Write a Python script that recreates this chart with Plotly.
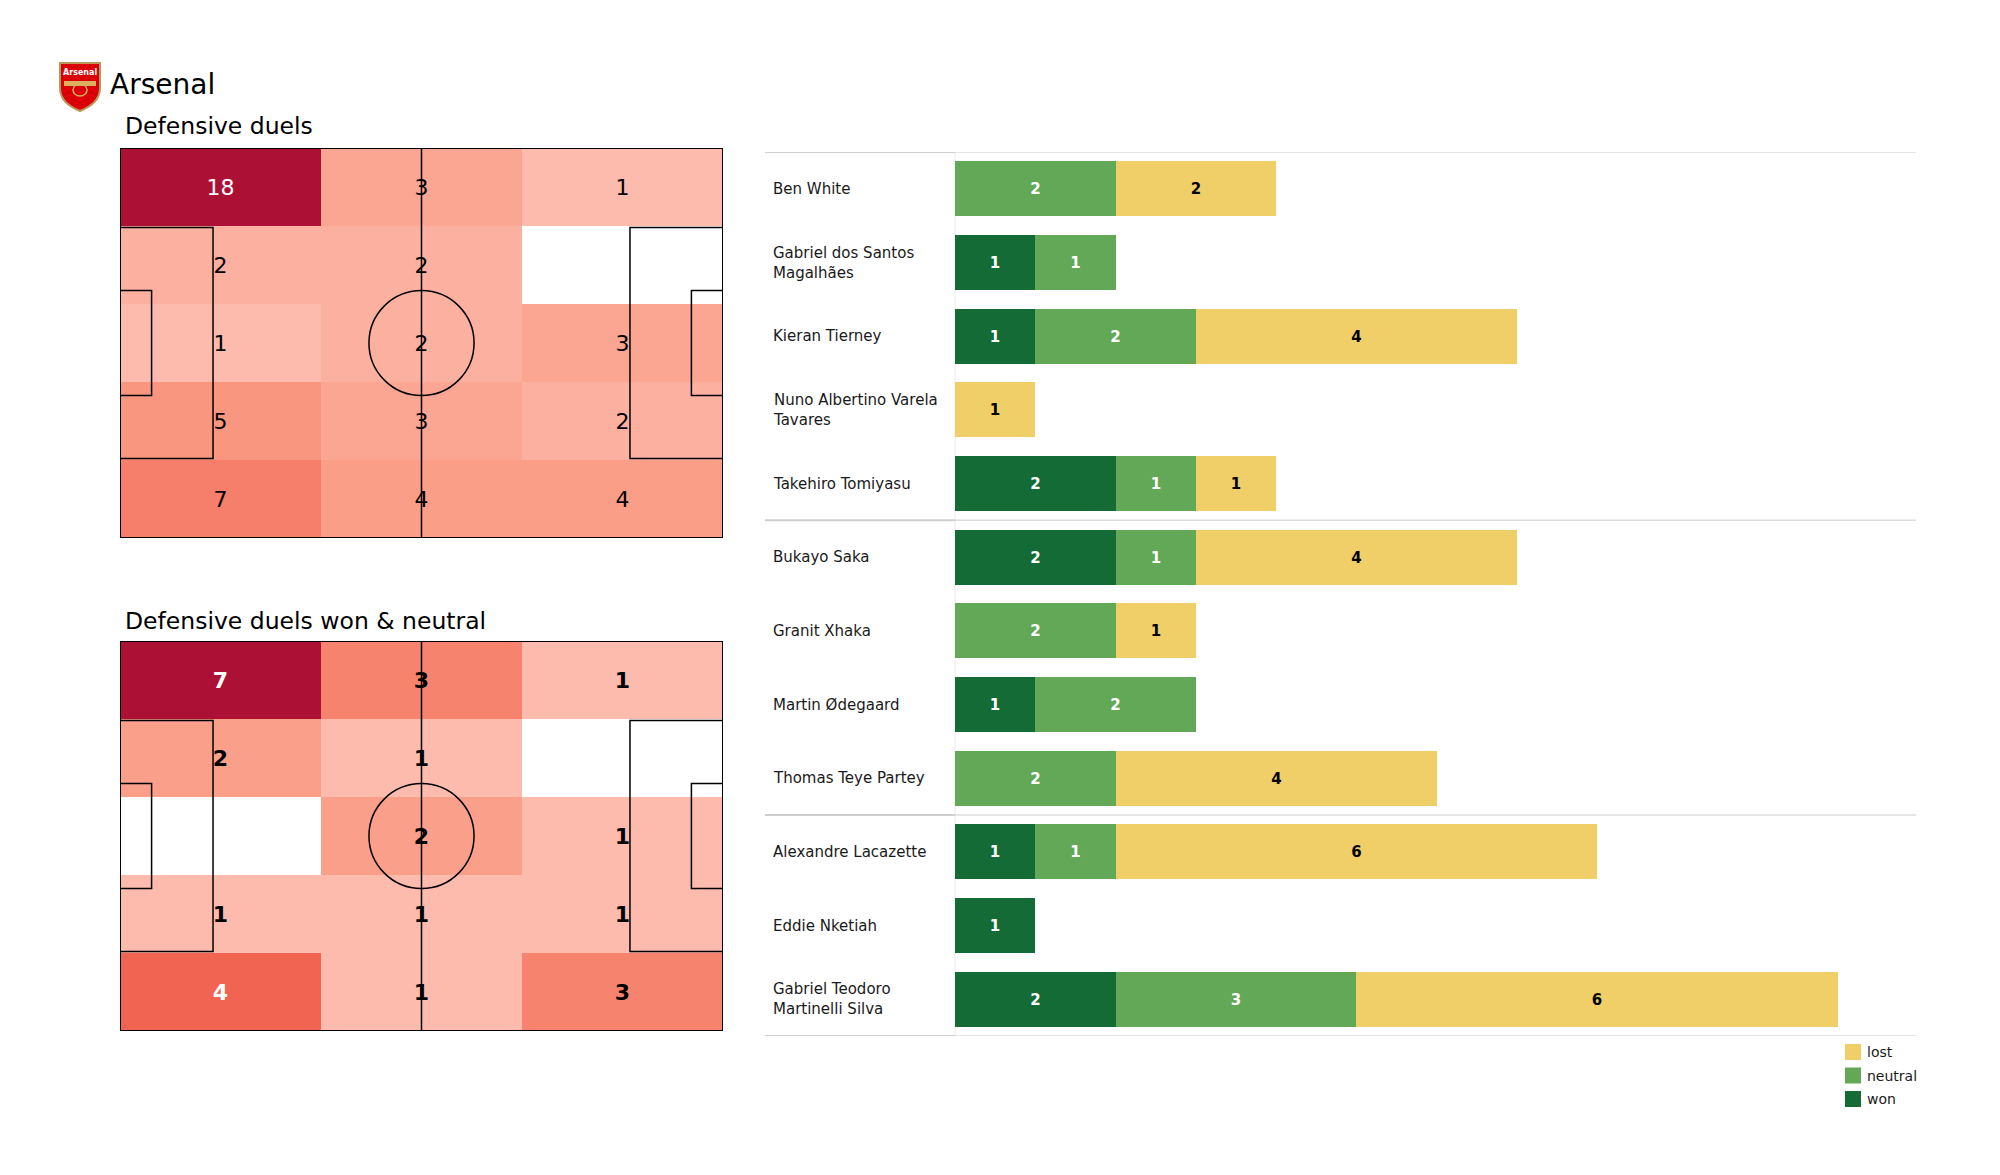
import textwrap
import plotly.graph_objects as go

# ---------------- data ----------------
team = "Arsenal"
title_top = "Defensive duels"
title_bottom = "Defensive duels won & neutral"

# zone grids (rows top->bottom, cols left->right)
duels_all = [
    [18, 3, 1],
    [2, 2, 0],
    [1, 2, 3],
    [5, 3, 2],
    [7, 4, 4],
]
duels_won_neutral = [
    [7, 3, 1],
    [2, 1, 0],
    [0, 2, 1],
    [1, 1, 1],
    [4, 1, 3],
]

players = [
    "Ben White", "Gabriel dos Santos Magalhães", "Kieran Tierney",
    "Nuno Albertino Varela Tavares", "Takehiro Tomiyasu",
    "Bukayo Saka", "Granit Xhaka", "Martin Ødegaard", "Thomas Teye Partey",
    "Alexandre Lacazette", "Eddie Nketiah", "Gabriel Teodoro Martinelli Silva",
]
group_sizes = [5, 4, 3]
won = [0, 1, 1, 0, 2, 2, 0, 1, 0, 1, 1, 2]
neutral = [2, 1, 2, 0, 1, 1, 2, 2, 2, 1, 0, 3]
lost = [2, 0, 4, 1, 1, 4, 1, 0, 4, 6, 0, 6]
series_names = ["won", "neutral", "lost"]

# ---------------- style ----------------
W, H = 2000, 1175
OFF = 8  # page body margin
FONT = "DejaVu Sans"
C_WON, C_NEU, C_LOST = "#146B36", "#62A857", "#F0CF69"
series_colors = [C_WON, C_NEU, C_LOST]
series_text = ["white", "white", "black"]
heat_scale = [
    [0.0, "#FDBBAD"], [0.059, "#FCB0A0"], [0.118, "#FBA593"], [0.167, "#FA9F8A"],
    [0.235, "#F9967F"], [0.333, "#F6836D"], [0.5, "#F06451"], [0.75, "#D5333D"],
    [1.0, "#AD1035"],
]
PL, PW = 105.0, 68.0
TXT_DY = 0.45  # small vertical nudge of zone labels (pitch units)


def px(x):
    return (x - OFF) / W


def py(y):
    return 1 - (y - OFF) / H


fig = go.Figure()

ncols = len(duels_all[0])
nrows = len(duels_all)
xc = [(i + 0.5) * PL / ncols for i in range(ncols)]
yc = [(j + 0.5) * PW / nrows for j in range(nrows)]


def add_pitch(grid, xa, ya, bold):
    vals = [v for r in grid for v in r if v > 0]
    zmax = max(vals)
    z = [[(v if v > 0 else None) for v in r] for r in grid]
    fig.add_trace(go.Heatmap(
        x=xc, y=yc, z=z, zmin=1, zmax=zmax, colorscale=heat_scale,
        showscale=False, xaxis=xa, yaxis=ya, hoverinfo="skip"))
    tx, ty, tt, tcol = [], [], [], []
    for j, r in enumerate(grid):
        for i, v in enumerate(r):
            if v > 0:
                tx.append(xc[i]); ty.append(yc[j] + TXT_DY); tt.append(str(v))
                frac = (v - 1) / (zmax - 1) if zmax > 1 else 1
                tcol.append("white" if frac > 0.4 else "black")
    fig.add_trace(go.Scatter(
        x=tx, y=ty, text=tt, mode="text", xaxis=xa, yaxis=ya,
        textfont=dict(family=FONT, size=22, color=tcol,
                      weight="bold" if bold else "normal"),
        hoverinfo="skip", showlegend=False))
    line = dict(color="black", width=1.5)
    shapes = []
    shapes.append(dict(type="rect", x0=0, x1=PL, y0=0, y1=PW, line=dict(color="black", width=2)))
    shapes.append(dict(type="line", x0=PL / 2, x1=PL / 2, y0=0, y1=PW, line=line))
    shapes.append(dict(type="circle", x0=PL / 2 - 9.15, x1=PL / 2 + 9.15,
                       y0=PW / 2 - 9.15, y1=PW / 2 + 9.15, line=line))
    for (a, b) in [(0, 16.2), (PL - 16.2, PL)]:
        shapes.append(dict(type="rect", x0=a, x1=b, y0=PW / 2 - 20.16, y1=PW / 2 + 20.16, line=line))
    for (a, b) in [(0, 5.5), (PL - 5.5, PL)]:
        shapes.append(dict(type="rect", x0=a, x1=b, y0=PW / 2 - 9.16, y1=PW / 2 + 9.16, line=line))
    for s in shapes:
        s.update(xref=xa, yref=ya, layer="above", fillcolor="rgba(0,0,0,0)")
        fig.add_shape(**s)


add_pitch(duels_all, "x", "y", False)
add_pitch(duels_won_neutral, "x2", "y2", True)

# ---------------- bars ----------------
idx = list(range(len(players)))
for name, vals, col, tcol in zip(series_names, [won, neutral, lost], series_colors, series_text):
    fig.add_trace(go.Bar(
        y=idx, x=vals, orientation="h", name=name, marker=dict(color=col, line=dict(width=0)),
        width=0.75, text=[str(v) if v > 0 else "" for v in vals],
        textposition="inside", insidetextanchor="middle", textangle=0,
        constraintext="none",
        textfont=dict(family=FONT, size=15, color=tcol, weight="bold"),
        xaxis="x3", yaxis="y3", showlegend=False, hoverinfo="skip"))

annotations = []
for i, p in enumerate(players):
    lab = "<br>".join(textwrap.wrap(p, 21))
    annotations.append(dict(x=px(771), y=i, xref="paper", yref="y3", text=lab,
                            showarrow=False, xanchor="left", yanchor="middle", align="left",
                            font=dict(family=FONT, size=15, color="#1a1a1a")))

# separators
bounds = [-0.5]
acc = -0.5
for g in group_sizes:
    acc += g
    bounds.append(acc)
for b in bounds:
    fig.add_shape(type="line", xref="paper", yref="y3", x0=px(765), x1=px(955), y0=b, y1=b,
                  line=dict(color="#cfcfcf", width=2))
    fig.add_shape(type="line", xref="paper", yref="y3", x0=px(955), x1=px(1916), y0=b, y1=b,
                  line=dict(color="#dcdcdc", width=1.5))
fig.add_shape(type="line", xref="paper", yref="y3", x0=px(955), x1=px(955), y0=-0.5, y1=bounds[-1],
              line=dict(color="#f2f2f2", width=1.5), layer="below")

# legend (manual)
for k, (name, col) in enumerate(zip(series_names[::-1], series_colors[::-1])):
    cy = 1052 + k * 23.5
    fig.add_shape(type="rect", xref="paper", yref="paper", x0=px(1845), x1=px(1861),
                  y0=py(cy + 8), y1=py(cy - 8), fillcolor=col, line=dict(width=0))
    annotations.append(dict(x=px(1865), y=py(cy), xref="paper", yref="paper", text=name,
                            showarrow=False, xanchor="left", yanchor="middle",
                            font=dict(family=FONT, size=14, color="#1a1a1a")))

# titles
annotations.append(dict(x=px(108), y=py(85), xref="paper", yref="paper", text=team, showarrow=False,
                        xanchor="left", yanchor="middle", font=dict(family=FONT, size=28, color="black")))
annotations.append(dict(x=px(123), y=py(126), xref="paper", yref="paper", text=title_top, showarrow=False,
                        xanchor="left", yanchor="middle", font=dict(family=FONT, size=23.5, color="black")))
annotations.append(dict(x=px(123), y=py(621), xref="paper", yref="paper", text=title_bottom, showarrow=False,
                        xanchor="left", yanchor="middle", font=dict(family=FONT, size=23.5, color="black")))


# crest (simple drawn shield)
def pt(x, y):
    return f"{px(x):.5f},{py(y):.5f}"


shield = (f"M {pt(60,63)} L {pt(100,63)} L {pt(100,88)} Q {pt(100,103)} {pt(80,111)} "
          f"Q {pt(60,103)} {pt(60,88)} Z")
fig.add_shape(type="path", path=shield, xref="paper", yref="paper", fillcolor="#DB0007",
              line=dict(color="#B8975A", width=2))
fig.add_shape(type="rect", xref="paper", yref="paper", x0=px(64), x1=px(96), y0=py(86), y1=py(81),
              fillcolor="#D8B25E", line=dict(width=0))
fig.add_shape(type="circle", xref="paper", yref="paper", x0=px(73), x1=px(87), y0=py(96), y1=py(84),
              fillcolor="rgba(0,0,0,0)", line=dict(color="#D8B25E", width=1.5))
annotations.append(dict(x=px(80), y=py(72), xref="paper", yref="paper", text="Arsenal", showarrow=False,
                        xanchor="center", yanchor="middle",
                        font=dict(family=FONT, size=8, color="white", weight="bold")))

ax_off = dict(visible=False, showgrid=False, zeroline=False, fixedrange=True)
fig.update_layout(
    width=W, height=H, margin=dict(l=0, r=0, t=0, b=0),
    paper_bgcolor="white", plot_bgcolor="white",
    barmode="stack", bargap=0, showlegend=False,
    font=dict(family=FONT),
    xaxis=dict(domain=[px(120), px(723)], range=[0, PL], anchor="y", **ax_off),
    yaxis=dict(domain=[py(538), py(148)], range=[PW, 0], anchor="x", **ax_off),
    xaxis2=dict(domain=[px(120), px(723)], range=[0, PL], anchor="y2", **ax_off),
    yaxis2=dict(domain=[py(1031), py(641)], range=[PW, 0], anchor="x2", **ax_off),
    xaxis3=dict(domain=[px(955), px(1918)], range=[0, 12], anchor="y3", **ax_off),
    yaxis3=dict(domain=[py(1036), py(152)], range=[bounds[-1], -0.5], anchor="x3", **ax_off),
    annotations=annotations,
)

fig.write_html("out.html")
